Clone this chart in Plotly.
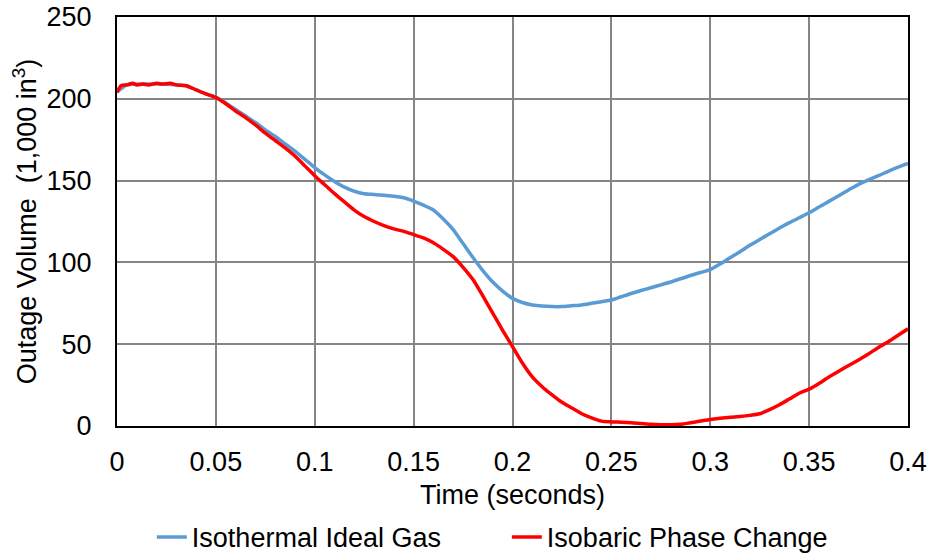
import plotly.graph_objects as go

# Time (seconds)
t_red = [0, 0.002, 0.005, 0.008, 0.01, 0.013, 0.016, 0.02, 0.023, 0.027, 0.03, 0.035,
         0.04, 0.045, 0.05, 0.055, 0.06, 0.065, 0.07, 0.075, 0.08, 0.085, 0.09, 0.095,
         0.1, 0.105, 0.11, 0.115, 0.12, 0.125, 0.13, 0.135, 0.14, 0.145, 0.15, 0.155,
         0.16, 0.165, 0.17, 0.175, 0.18, 0.185, 0.19, 0.195, 0.2, 0.205, 0.21, 0.215,
         0.22, 0.225, 0.23, 0.235, 0.24, 0.245, 0.25, 0.255, 0.26, 0.265, 0.27, 0.275,
         0.28, 0.285, 0.29, 0.295, 0.3, 0.305, 0.31, 0.315, 0.32, 0.325, 0.33, 0.335,
         0.34, 0.345, 0.35, 0.355, 0.36, 0.365, 0.37, 0.375, 0.38, 0.385, 0.39, 0.395, 0.4]
# Isobaric Phase Change (1,000 in^3)
v_red = [204, 208, 208.5, 209.5, 208.5, 209, 208.5, 209.5, 209, 209.5, 208.5, 208,
         205.5, 203, 200.8, 197, 192.5, 188.5, 184, 179, 174.5, 170, 165, 159,
         153, 147.5, 142, 137, 132, 128, 125, 122.5, 120.5, 119, 117, 115,
         112, 108, 103.5, 97, 89.5, 79.5, 69, 58.5, 48.5, 38.5, 30, 24,
         19, 14.5, 11, 7.5, 5, 3, 2.5, 2.3, 2, 1.5, 1, 0.8,
         0.8, 1, 2, 3, 4, 4.8, 5.3, 5.8, 6.5, 7.5, 10, 13,
         16.5, 20, 22.5, 26, 30, 33.5, 37, 40.4, 44, 48, 51.5, 55.5, 59.4]

t_blue = [0, 0.005, 0.02, 0.03, 0.035, 0.04, 0.045, 0.05, 0.055, 0.06, 0.065, 0.07,
          0.075, 0.08, 0.085, 0.09, 0.095, 0.1, 0.105, 0.11, 0.115, 0.12, 0.125, 0.13,
          0.135, 0.14, 0.145, 0.15, 0.155, 0.16, 0.165, 0.17, 0.175, 0.18, 0.185, 0.19,
          0.195, 0.2, 0.205, 0.21, 0.215, 0.22, 0.225, 0.23, 0.235, 0.24, 0.245, 0.25,
          0.255, 0.26, 0.265, 0.27, 0.275, 0.28, 0.285, 0.29, 0.295, 0.3, 0.305, 0.31,
          0.315, 0.32, 0.325, 0.33, 0.335, 0.34, 0.345, 0.35, 0.355, 0.36, 0.365, 0.37,
          0.375, 0.38, 0.385, 0.39, 0.395, 0.4]
# Isothermal Ideal Gas (1,000 in^3)
v_blue = [204, 208.5, 209, 208.5, 208, 205.5, 203, 201, 197.5, 193.5, 189.5, 185.5,
          181, 177, 172.5, 168, 163, 158, 153.5, 149.5, 146, 143.5, 142, 141.5,
          141, 140.5, 139.5, 137.5, 135, 132, 126.5, 120, 111.5, 103, 95, 88,
          82.5, 78, 75.5, 74, 73.3, 73, 73, 73.5, 74, 75, 76, 77,
          79, 81, 82.8, 84.5, 86.3, 88, 90, 92, 93.8, 95.6, 99, 102.8,
          106.5, 110.5, 114, 117.5, 121, 124.3, 127.3, 130.3, 133.8, 137.3, 140.8, 144.3,
          147.7, 150.5, 153, 155.7, 158.2, 160.5]

x_ticks = [0, 0.05, 0.1, 0.15, 0.2, 0.25, 0.3, 0.35, 0.4]
x_tick_labels = ["0", "0.05", "0.1", "0.15", "0.2", "0.25", "0.3", "0.35", "0.4"]
y_ticks = [0, 50, 100, 150, 200, 250]

FONT = "Liberation Sans, Arial, sans-serif"
FS = 27

fig = go.Figure()
fig.add_trace(go.Scatter(x=t_blue, y=v_blue, mode="lines", name="Isothermal Ideal Gas",
                         line=dict(color="#5B9BD5", width=3.5, shape="spline", smoothing=0.6)))
fig.add_trace(go.Scatter(x=t_red, y=v_red, mode="lines", name="Isobaric Phase Change",
                         line=dict(color="#FF0000", width=3.5, shape="spline", smoothing=0.6)))

fig.update_layout(
    width=930, height=554,
    margin=dict(l=117, r=22, t=17, b=128),
    paper_bgcolor="white", plot_bgcolor="white",
    font=dict(family=FONT, size=FS, color="black"),
    showlegend=True,
    legend=dict(orientation="h", xref="container", yref="container",
                x=0.545, xanchor="center", y=0.03, yanchor="middle",
                font=dict(size=FS), entrywidth=310, entrywidthmode="pixels"),
    xaxis=dict(range=[0, 0.4], tickvals=x_ticks, ticktext=x_tick_labels,
               showgrid=True, gridcolor="#858585", gridwidth=2,
               showline=True, linecolor="black", linewidth=2, mirror=True,
               zeroline=False, ticks="", ticklabelstandoff=11, automargin=False,
               title=dict(text="Time (seconds)", standoff=9, font=dict(size=FS))),
    yaxis=dict(range=[0, 250], tickvals=y_ticks,
               showgrid=True, gridcolor="#858585", gridwidth=2,
               showline=True, linecolor="black", linewidth=2, mirror=True,
               zeroline=False, ticks="", ticklabelstandoff=18, automargin=False,
               title=dict(text="Outage Volume  (1,000 in<sup>3</sup>)", standoff=2,
                          font=dict(size=FS))),
)

fig.write_html("out.html")
